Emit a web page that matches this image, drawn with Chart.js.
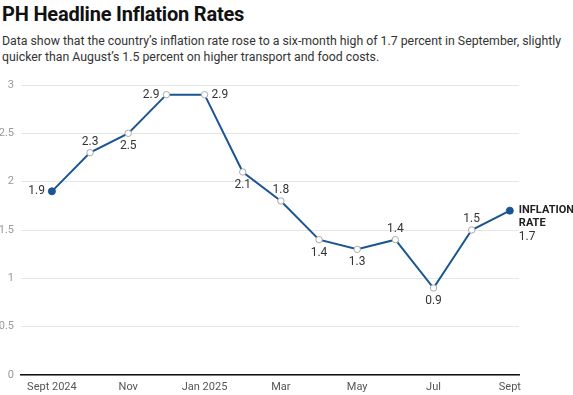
<!DOCTYPE html>
<html>
<head>
<meta charset="utf-8">
<script src="https://cdn.jsdelivr.net/npm/chart.js@4.4.0/dist/chart.umd.min.js"></script>
<style>
  html, body { margin: 0; padding: 0; background: #fff; }
  body { width: 573px; height: 395px; position: relative; overflow: hidden; font-family: Roboto, sans-serif; }
  #title { position: absolute; left: 2px; top: 2px; font-size: 20px; font-weight: 700; color: #111; letter-spacing: -0.2px; }
  #sub { position: absolute; left: 2px; top: 33px; font-size: 12.3px; line-height: 16px; color: #333; white-space: nowrap; }
  #wrap { position: absolute; left: 0; top: 70px; width: 573px; height: 325px; }
</style>
</head>
<body>
<div id="title">PH Headline Inflation Rates</div>
<div id="sub">Data show that the country’s inflation rate rose to a six-month high of 1.7 percent in September, slightly<br>quicker than August’s 1.5 percent on higher transport and food costs.</div>
<div id="wrap"><canvas id="chart"></canvas></div>
<script>
// monthly headline inflation, Sept 2024 - Sept 2025
const months = ['Sept 2024', 'Oct', 'Nov', 'Dec', 'Jan 2025', 'Feb', 'Mar', 'Apr', 'May', 'Jun', 'Jul', 'Aug', 'Sept'];
const inflation = [1.9, 2.3, 2.5, 2.9, 2.9, 2.1, 1.8, 1.4, 1.3, 1.4, 0.9, 1.5, 1.7];
const yTicks = [0, 0.5, 1, 1.5, 2, 2.5, 3];
const xTickIdx = [0, 2, 4, 6, 8, 10, 12];
// where each point's value label goes
const labelSide = ['left', 'top', 'bottom', 'left', 'right', 'bottom', 'top', 'bottom', 'bottom', 'top', 'bottom', 'top', 'end'];

const blue = '#1a5592';
const lastIdx = inflation.length - 1;

const pointLabels = {
  id: 'pointLabels',
  afterDatasetsDraw(chart) {
    const ctx = chart.ctx;
    const meta = chart.getDatasetMeta(0);
    ctx.save();
    meta.data.forEach((pt, i) => {
      const txt = inflation[i].toFixed(1);
      const side = labelSide[i];
      ctx.fillStyle = '#333';
      ctx.font = '12px Roboto';
      ctx.textBaseline = 'middle';
      if (side === 'left') {
        ctx.textAlign = 'right';
        ctx.fillText(txt, pt.x - 7, pt.y);
      } else if (side === 'right') {
        ctx.textAlign = 'left';
        ctx.fillText(txt, pt.x + 7, pt.y);
      } else if (side === 'top') {
        ctx.textAlign = 'center';
        ctx.fillText(txt, pt.x, pt.y - 11);
      } else if (side === 'bottom') {
        ctx.textAlign = 'center';
        ctx.fillText(txt, pt.x, pt.y + 13);
      } else {
        ctx.textAlign = 'left';
        ctx.fillStyle = '#222';
        ctx.font = 'bold 11px Roboto';
        ctx.fillText('INFLATION', pt.x + 9, pt.y);
        ctx.fillText('RATE', pt.x + 9, pt.y + 13);
        ctx.fillStyle = '#333';
        ctx.font = '12px Roboto';
        ctx.fillText(txt, pt.x + 9, pt.y + 26);
      }
    });
    ctx.restore();
  }
};

new Chart(document.getElementById('chart'), {
  type: 'line',
  data: {
    datasets: [{
      data: inflation.map((v, i) => ({ x: i, y: v })),
      borderColor: blue,
      borderWidth: 2,
      tension: 0,
      pointRadius: inflation.map((v, i) => (i === 0 || i === lastIdx) ? 3.5 : 3.2),
      pointBackgroundColor: inflation.map((v, i) => (i === 0 || i === lastIdx) ? blue : '#fff'),
      pointBorderColor: inflation.map((v, i) => (i === 0 || i === lastIdx) ? blue : '#aaa'),
      pointBorderWidth: 1
    }]
  },
  options: {
    responsive: true,
    maintainAspectRatio: false,
    animation: false,
    layout: { padding: { top: 15, right: 54, left: 0, bottom: 0 } },
    plugins: { legend: { display: false }, tooltip: { enabled: false } },
    scales: {
      x: {
        type: 'linear',
        min: -0.81,
        max: 12.24,
        afterBuildTicks: s => { s.ticks = xTickIdx.map(v => ({ value: v })); },
        afterFit: s => { s.height = 20; },
        ticks: {
          callback: v => months[v],
          color: '#555',
          font: { family: 'Roboto', size: 11 },
          maxRotation: 0,
          autoSkip: false,
          padding: 6
        },
        grid: { display: false, drawTicks: false },
        border: { color: '#111', width: 1.5 }
      },
      y: {
        min: 0,
        max: 3,
        afterBuildTicks: s => { s.ticks = yTicks.map(v => ({ value: v })); },
        afterFit: s => { s.width = 21; },
        ticks: {
          color: '#999',
          font: { family: 'Roboto', size: 11 },
          padding: 7,
          callback: v => String(v)
        },
        grid: { color: '#e6e6e6', drawTicks: false },
        border: { display: false }
      }
    }
  },
  plugins: [pointLabels]
});
</script>
</body>
</html>
